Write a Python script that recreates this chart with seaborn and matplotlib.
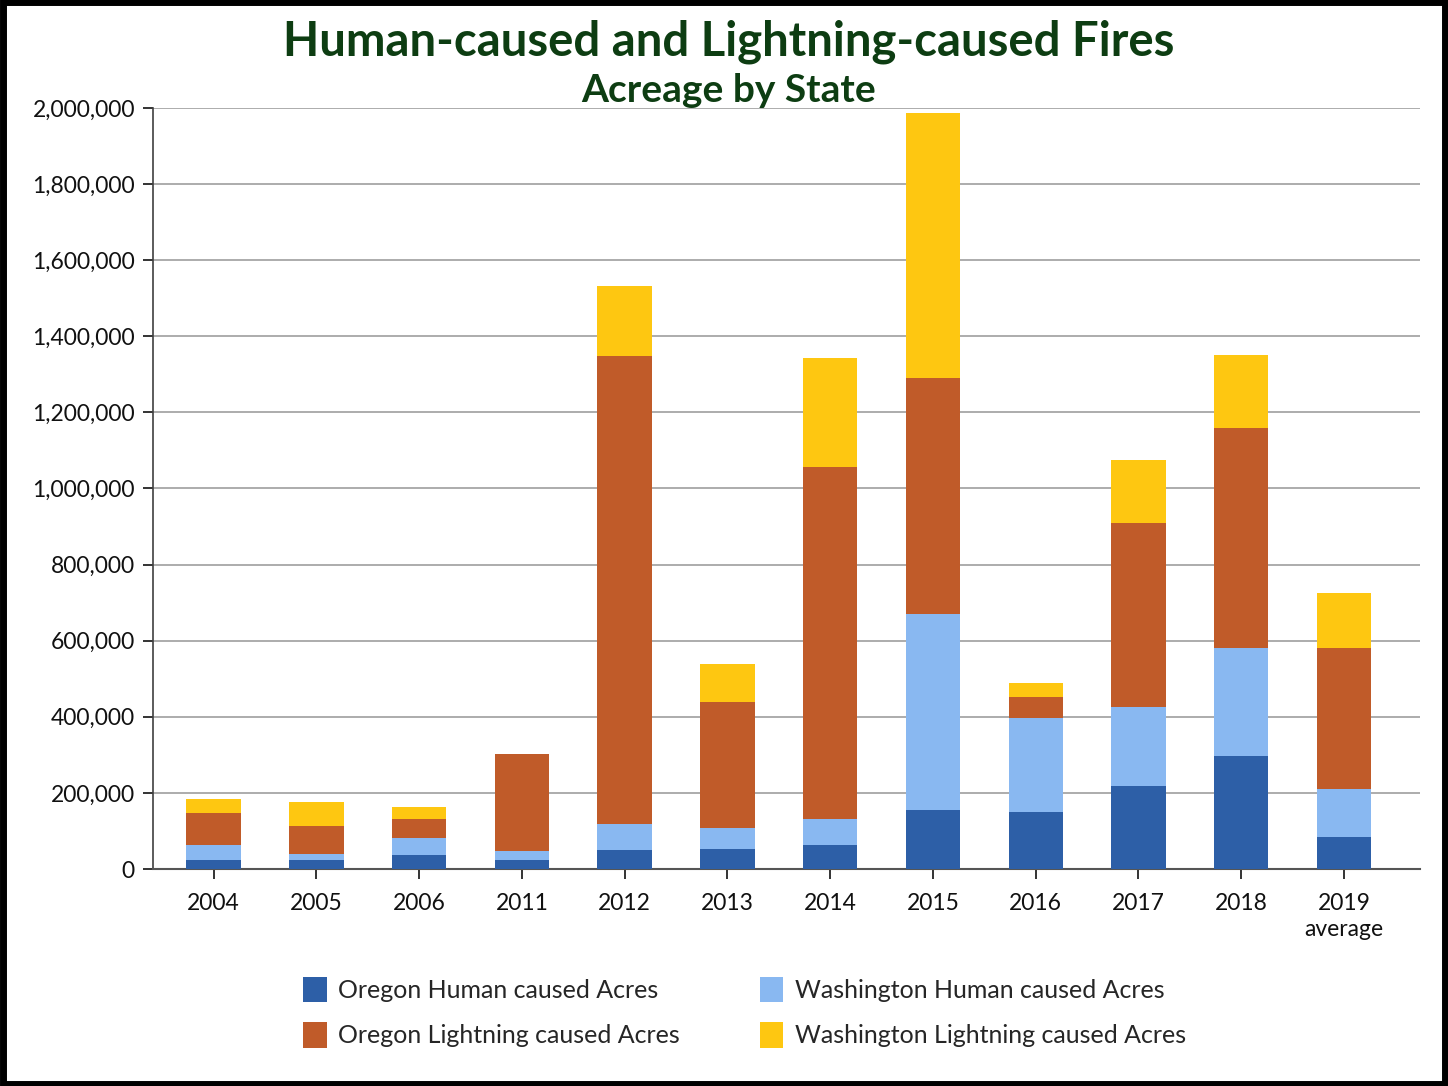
import matplotlib
matplotlib.use("Agg")
import matplotlib.pyplot as plt
from matplotlib.patches import Rectangle, Patch
from matplotlib.ticker import FuncFormatter, MultipleLocator
import numpy as np
import pandas as pd
import seaborn as sns

# values (acres)
years = ["2004", "2005", "2006", "2011", "2012", "2013", "2014",
         "2015", "2016", "2017", "2018", "2019\naverage"]
oregon_human = [24000, 24000, 36000, 24000, 49000, 52000, 63000,
                154000, 149000, 217000, 297000, 84000]
washington_human = [39000, 15000, 45000, 24000, 70000, 56000, 68000,
                    515000, 247000, 210000, 284000, 126000]
oregon_lightning = [84000, 74000, 51000, 253000, 1229000, 331000, 925000,
                    621000, 57000, 481000, 578000, 370000]
washington_lightning = [37000, 64000, 31000, 0, 184000, 100000, 287000,
                        696000, 36000, 166000, 193000, 146000]

series_names = ["Oregon Human caused Acres", "Washington Human caused Acres",
                "Oregon Lightning caused Acres", "Washington Lightning caused Acres"]
colors = ["#2D5FA7", "#89B8F1", "#C05B29", "#FEC711"]

df = pd.DataFrame({
    "year": years,
    series_names[0]: oregon_human,
    series_names[1]: washington_human,
    series_names[2]: oregon_lightning,
    series_names[3]: washington_lightning,
})
# cumulative tops so that the stacks can be drawn tallest first
cum = df[series_names].cumsum(axis=1)

sns.set_style("white")
plt.rcParams["font.family"] = ["Lato", "DejaVu Sans"]

fig = plt.figure(figsize=(14.48, 10.86), dpi=100)
ax = fig.add_axes([0.1057, 0.1998, 0.8750, 0.7008])

for name, col in reversed(list(zip(series_names, colors))):
    sns.barplot(x=df["year"], y=cum[name], color=col, width=0.53,
                saturation=1, edgecolor="none", linewidth=0, ax=ax, zorder=3)

ax.set_ylim(0, 2000000)
ax.set_xlim(-0.59, 11.74)
ax.yaxis.set_major_locator(MultipleLocator(200000))
ax.yaxis.set_major_formatter(FuncFormatter(lambda v, p: f"{int(v):,}"))
ax.grid(axis="y", color="#A6A6A6", linewidth=1.3, zorder=0)
ax.set_axisbelow(True)
ax.set_xlabel("")
ax.set_ylabel("")

for s in ["top", "right"]:
    ax.spines[s].set_visible(False)
ax.spines["left"].set_color("#404040")
ax.spines["bottom"].set_color("#555555")
ax.spines["left"].set_linewidth(1.2)
ax.spines["bottom"].set_linewidth(1.5)
ax.tick_params(axis="both", labelsize=16.5, colors="#111111", length=7, width=1.2,
               direction="out", left=True, bottom=True)
ax.tick_params(axis="x", pad=10)
ax.tick_params(axis="y", pad=6)
for lbl in ax.get_xticklabels():
    lbl.set_linespacing(1.3)

fig.text(0.503, 0.962, "Human-caused and Lightning-caused Fires", ha="center", va="center",
         fontsize=34, fontweight="bold", color="#0D3D12")
fig.text(0.503, 0.917, "Acreage by State", ha="center", va="center",
         fontsize=28, fontweight="bold", color="#0D3D12")

# legend fills column by column: reorder so rows read OR/WA human, OR/WA lightning
order = [0, 2, 1, 3]
handles = [Patch(facecolor=colors[i], edgecolor="none") for i in order]
labels = [series_names[i] for i in order]
leg = fig.legend(handles, labels, loc="center", bbox_to_anchor=(0.514, 0.068),
                 ncol=2, frameon=False, fontsize=18, handlelength=0.95, handleheight=1.2,
                 columnspacing=3.2, labelspacing=0.8, handletextpad=0.45)

fig.patches.append(Rectangle((0.002, 0.002), 0.996, 0.996, transform=fig.transFigure,
                             fill=False, edgecolor="black", linewidth=5, zorder=10))

fig.savefig("out.png", dpi=100, facecolor="white")
